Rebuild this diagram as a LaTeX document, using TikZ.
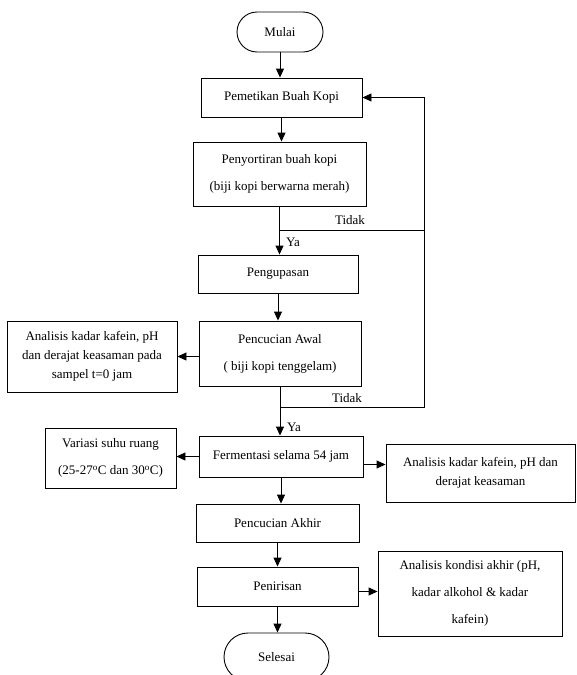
\documentclass[tikz,border=0pt]{standalone}
\usepackage{fontspec}
\setmainfont{Liberation Serif}
\usetikzlibrary{arrows.meta}

\begin{document}
\begin{tikzpicture}[x=1pt, y=-1pt, line width=0.9pt,
  >={Triangle[length=9pt,width=8pt]},
  proses/.style={draw, rectangle, align=center, inner sep=2pt, font=\fontsize{13}{27}\selectfont},
  rapat/.style={font=\fontsize{13}{19}\selectfont},
  terminal/.style={draw, rectangle, rounded corners=#1, align=center, font=\fontsize{13}{16}\selectfont},
  ket/.style={font=\fontsize{13}{16}\selectfont}]
\useasboundingbox (0,0) rectangle (577,675);
\clip (0,0) rectangle (577,675);

%Mulai
\node[terminal=20pt, minimum width=86pt, minimum height=40pt] (mulai) at (280,32) {Mulai};

%proses utama
\node[proses, minimum width=161pt, minimum height=39pt] (petik) at (281.5,97.5) {Pemetikan Buah Kopi};
\node[proses, minimum width=173pt, minimum height=64pt] (sortir) at (279.5,174) {Penyortiran buah kopi\\(biji kopi berwarna merah)};
\node[proses, minimum width=160pt, minimum height=38pt] (kupas) at (278,274) {Pengupasan};
\node[proses, minimum width=162pt, minimum height=65pt] (cuciawal) at (280,353.5) {Pencucian Awal\\( biji kopi tenggelam)};
\node[proses, minimum width=164pt, minimum height=41pt] (fermentasi) at (281,456.5) {Fermentasi selama 54 jam};
\node[proses, minimum width=163pt, minimum height=38pt] (cuciakhir) at (277.5,523) {Pencucian Akhir};
\node[proses, minimum width=161pt, minimum height=39pt] (tiris) at (277.5,586.5) {Penirisan};

%Selesai
\node[terminal=24pt, minimum width=105pt, minimum height=48pt] (selesai) at (276.5,657) {Selesai};

%analisis
\node[proses, rapat, minimum width=170pt, minimum height=71pt] (analisisawal) at (92,356.5) {Analisis kadar kafein, pH\\dan derajat keasaman pada\\sampel t=0 jam};
\node[proses, minimum width=131pt, minimum height=60pt] (suhu) at (110.5,458) {Variasi suhu ruang\\(25-27\textsuperscript{o}C dan 30\textsuperscript{o}C)};
\node[proses, rapat, minimum width=189pt, minimum height=58pt] (analisisferm) at (480.5,473) {Analisis kadar kafein, pH dan\\derajat keasaman};
\node[proses, minimum width=184pt, minimum height=85pt] (analisisakhir) at (470,593.5) {Analisis kondisi akhir (pH,\\kadar alkohol \& kadar\\kafein)};

%alur
\draw[->] (mulai.south) -- (mulai.south |- petik.north);
\draw[->] (petik.south) -- (petik.south |- sortir.north);
\draw[->] (sortir.south) -- (sortir.south |- kupas.north);
\draw[->] (kupas.south) -- (kupas.south |- cuciawal.north);
\draw[->] (cuciawal.south) -- (cuciawal.south |- fermentasi.north);
\draw[->] (fermentasi.south) -- (fermentasi.south |- cuciakhir.north);
\draw[->] (cuciakhir.south) -- (cuciakhir.south |- tiris.north);
\draw[->] (tiris.south) -- (tiris.south |- selesai.north);

%cabang
\draw[->] (cuciawal.west |- analisisawal.east) -- (analisisawal.east);
\draw[->] (fermentasi.west) -- (fermentasi.west -| suhu.east);
\draw[->] ([yshift=-8pt]fermentasi.east) -- ([yshift=-8pt]fermentasi.east -| analisisferm.west);
\draw[->] ([yshift=-5pt]tiris.east) -- ([yshift=-5pt]tiris.east -| analisisakhir.west);

%Tidak
\coordinate (tidak1) at (sortir.south |- 0,230);
\coordinate (tidak2) at (cuciawal.south |- 0,407);
\coordinate (balik) at (424,407);
\draw (tidak1) -- (tidak1 -| balik);
\draw[->] (tidak2) -- (balik) |- (petik.east);

%label
\node[ket] (tidaka) at (350,220) {Tidak};
\node[ket] (tidakb) at (347,398) {Tidak};
\node[ket] (yaa) at (293,242) {Ya};
\node[ket] (yab) at (294,427) {Ya};
\end{tikzpicture}
\end{document}
